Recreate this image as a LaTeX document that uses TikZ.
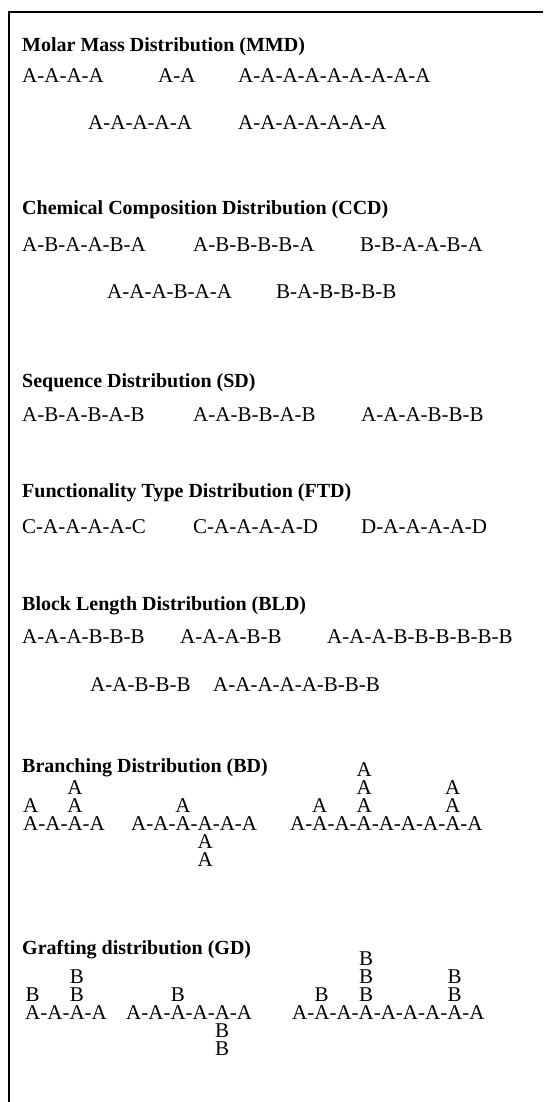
\documentclass[tikz,border=0pt]{standalone}
\usepackage{fontspec}
\setmainfont{Liberation Serif}
\begin{document}
\begin{tikzpicture}[x=1pt, y=-1pt,
	heading/.style={anchor=base west, inner sep=0pt, font=\fontsize{20}{24}\selectfont\bfseries},
	chain/.style={anchor=base west, inner sep=0pt, font=\fontsize{21}{25}\selectfont},
	side/.style={anchor=base, inner sep=0pt, font=\fontsize{21}{25}\selectfont}]
	\useasboundingbox (0,0) rectangle (543,1102);
	\draw [line width=1.4pt] (543,12) -- (9,12) -- (9,1102);

	% molar mass
	\node [heading] (mmd) at (22,52) {Molar Mass Distribution (MMD)};
	\node [chain] (mmd1) at (22,83) {A-A-A-A};
	\node [chain] (mmd2) at (158,83) {A-A};
	\node [chain] (mmd3) at (238,83) {A-A-A-A-A-A-A-A-A};
	\node [chain] (mmd4) at (88,130) {A-A-A-A-A};
	\node [chain] (mmd5) at (238,130) {A-A-A-A-A-A-A};

	% chemical composition
	\node [heading] (ccd) at (22,214) {Chemical Composition Distribution (CCD)};
	\node [chain] (ccd1) at (22,251) {A-B-A-A-B-A};
	\node [chain] (ccd2) at (193,251) {A-B-B-B-B-A};
	\node [chain] (ccd3) at (360,251) {B-B-A-A-B-A};
	\node [chain] (ccd4) at (107,298) {A-A-A-B-A-A};
	\node [chain] (ccd5) at (276,298) {B-A-B-B-B-B};

	% sequence
	\node [heading] (sd) at (22,387) {Sequence Distribution (SD)};
	\node [chain] (sd1) at (22,421) {A-B-A-B-A-B};
	\node [chain] (sd2) at (193,421) {A-A-B-B-A-B};
	\node [chain] (sd3) at (361,421) {A-A-A-B-B-B};

	% functionality type
	\node [heading] (ftd) at (22,497) {Functionality Type Distribution (FTD)};
	\node [chain] (ftd1) at (22,533) {C-A-A-A-A-C};
	\node [chain] (ftd2) at (193,533) {C-A-A-A-A-D};
	\node [chain] (ftd3) at (361,533) {D-A-A-A-A-D};

	% block length
	\node [heading] (bld) at (22,610) {Block Length Distribution (BLD)};
	\node [chain] (bld1) at (22,643) {A-A-A-B-B-B};
	\node [chain] (bld2) at (180,643) {A-A-A-B-B};
	\node [chain] (bld3) at (327,643) {A-A-A-B-B-B-B-B-B};
	\node [chain] (bld4) at (90,691) {A-A-B-B-B};
	\node [chain] (bld5) at (213,691) {A-A-A-A-A-B-B-B};

	% branching
	\node [heading] (bd) at (22,772) {Branching Distribution (BD)};
	\node [chain] (bd1) at (23,830) {A-A-A-A};
	\node [side] (bd1a) at (30.6,812) {A};
	\node [side] (bd1b) at (74.9,812) {A};
	\node [side] (bd1c) at (74.9,794) {A};
	\node [chain] (bd2) at (131,830) {A-A-A-A-A-A};
	\node [side] (bd2a) at (182.9,812) {A};
	\node [side] (bd2b) at (205.1,848) {A};
	\node [side] (bd2c) at (205.1,866) {A};
	\node [chain] (bd3) at (290,830) {A-A-A-A-A-A-A-A-A};
	\node [side] (bd3a) at (319.7,812) {A};
	\node [side] (bd3b) at (364.1,812) {A};
	\node [side] (bd3c) at (364.1,794) {A};
	\node [side] (bd3d) at (364.1,776) {A};
	\node [side] (bd3e) at (452.7,812) {A};
	\node [side] (bd3f) at (452.7,794) {A};

	% grafting
	\node [heading] (gd) at (22,954) {Grafting distribution (GD)};
	\node [chain] (gd1) at (25,1019) {A-A-A-A};
	\node [side] (gd1a) at (32.6,1001) {B};
	\node [side] (gd1b) at (76.9,1001) {B};
	\node [side] (gd1c) at (76.9,983) {B};
	\node [chain] (gd2) at (126,1019) {A-A-A-A-A-A};
	\node [side] (gd2a) at (177.9,1001) {B};
	\node [side] (gd2b) at (222.2,1037) {B};
	\node [side] (gd2c) at (222.2,1055) {B};
	\node [chain] (gd3) at (292,1019) {A-A-A-A-A-A-A-A-A};
	\node [side] (gd3a) at (321.7,1001) {B};
	\node [side] (gd3b) at (366.1,1001) {B};
	\node [side] (gd3c) at (366.1,983) {B};
	\node [side] (gd3d) at (366.1,965) {B};
	\node [side] (gd3e) at (454.7,1001) {B};
	\node [side] (gd3f) at (454.7,983) {B};
\end{tikzpicture}
\end{document}
